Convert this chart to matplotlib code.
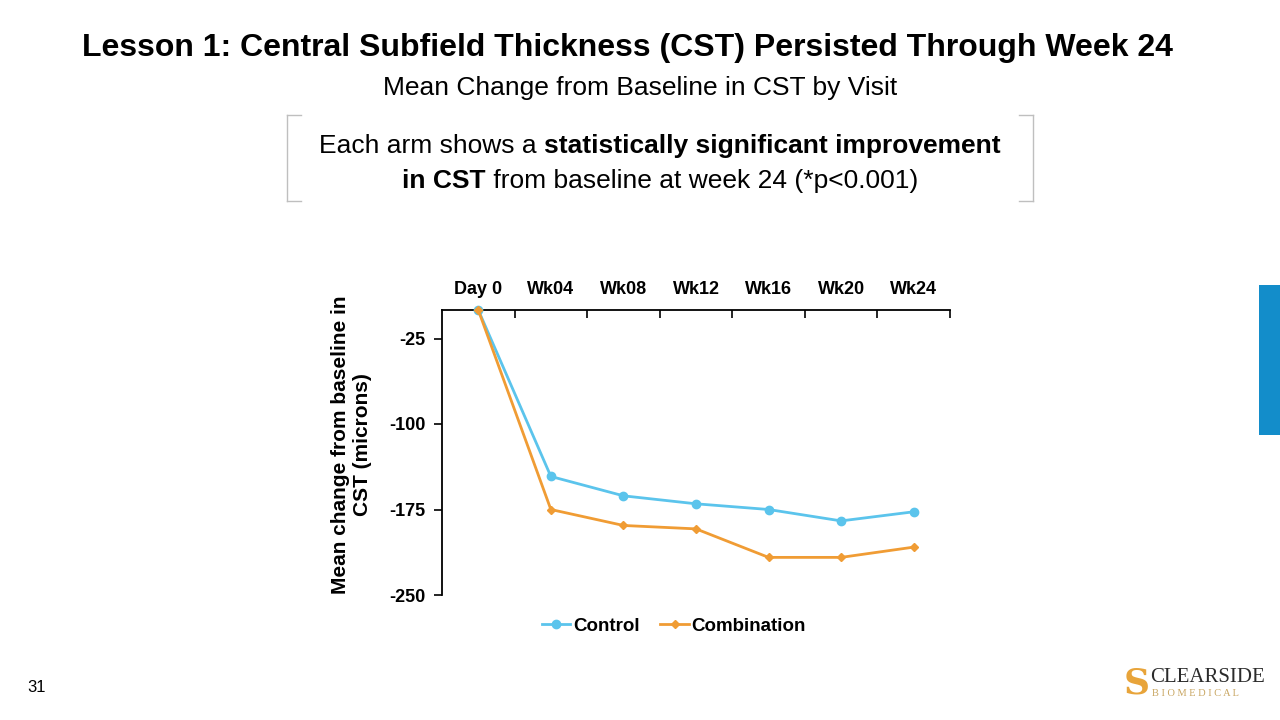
import matplotlib
matplotlib.use("Agg")
import matplotlib.pyplot as plt
from matplotlib.lines import Line2D
from matplotlib.patches import Rectangle

plt.rcParams['font.family'] = ['Liberation Sans', 'DejaVu Sans']

visits = ["Day 0", "Wk04", "Wk08", "Wk12", "Wk16", "Wk20", "Wk24"]
control = [0, -146, -163, -170, -175, -185, -177]
combination = [0, -175, -189, -192, -217, -217, -208]
y_ticks = [-25, -100, -175, -250]

C_CTRL = "#5BC4EC"
C_COMB = "#F09C34"

fig = plt.figure(figsize=(12.8, 7.2), dpi=100)
W, H = 1280, 720

def fx(x):
    return x / W

def fy(y):
    return 1 - y / H

# Titles
fig.text(fx(627), fy(48), "Lesson 1: Central Subfield Thickness (CST) Persisted Through Week 24",
         ha="center", va="center", fontsize=23, fontweight="bold", color="black")
fig.text(fx(640), fy(88), "Mean Change from Baseline in CST by Visit",
         ha="center", va="center", fontsize=19, color="black")

# Callout box brackets
gray = "#BFBFBF"
for xb, d in [(287, 1), (1033, -1)]:
    fig.add_artist(Line2D([fx(xb), fx(xb)], [fy(115), fy(201)], color=gray, lw=1))
    fig.add_artist(Line2D([fx(xb), fx(xb + d * 14)], [fy(115), fy(115)], color=gray, lw=1))
    fig.add_artist(Line2D([fx(xb), fx(xb + d * 14)], [fy(201), fy(201)], color=gray, lw=1))

# Mixed-weight centered text lines
fig.canvas.draw()
renderer = fig.canvas.get_renderer()

def mixed_line(parts, xc, yc, size):
    texts = []
    for s, w in parts:
        t = fig.text(0, fy(yc), s, ha="left", va="center", fontsize=size, fontweight=w)
        texts.append(t)
    widths = [t.get_window_extent(renderer).width for t in texts]
    total = sum(widths)
    x = xc - total / 2
    for t, wd in zip(texts, widths):
        t.set_x(fx(x))
        x += wd

mixed_line([("Each arm shows a ", "normal"), ("statistically significant improvement", "bold")], 660, 146, 19)
mixed_line([("in CST", "bold"), (" from baseline at week 24 (*p<0.001)", "normal")], 660, 181, 19)

# Chart
ax = fig.add_axes([fx(442), fy(595), fx(950) - fx(442), fy(310) - fy(595)])
xs = list(range(len(visits)))
ax.plot(xs, control, color=C_CTRL, lw=2.0, marker="o", ms=6, label="Control", zorder=3, clip_on=False)
ax.plot(xs, combination, color=C_COMB, lw=2.0, marker="D", ms=4.5, label="Combination", zorder=3, clip_on=False)

ax.set_xlim(-0.5, len(visits) - 0.5)
ax.set_ylim(-250, 0)
ax.set_yticks(y_ticks)
ax.set_yticklabels([str(v) for v in y_ticks], fontsize=13, fontweight="bold")
ax.xaxis.tick_top()
ax.set_xticks(xs)
ax.set_xticklabels(visits, fontsize=13, fontweight="bold")
ax.set_xticks([i + 0.5 for i in xs], minor=True)
ax.tick_params(axis="x", which="major", length=0, pad=9)
ax.tick_params(axis="x", which="minor", length=6, direction="in", width=1.2, top=True, bottom=False)
ax.tick_params(axis="y", which="major", length=6, direction="out", width=1.2, pad=6)
for s in ["right", "bottom"]:
    ax.spines[s].set_visible(False)
for s in ["left", "top"]:
    ax.spines[s].set_linewidth(1.3)
ax.set_ylabel("Mean change from baseline in\nCST (microns)", fontsize=15, fontweight="bold",
              linespacing=1.2)
ax.yaxis.set_label_coords((372 - 442) / 508, (595 - 445) / 285)
ax.patch.set_alpha(0)

leg = fig.legend(handles=ax.get_lines(), loc="center", bbox_to_anchor=(fx(674), fy(626)),
                 ncol=2, frameon=False, prop={"weight": "bold", "size": 13.5},
                 handlelength=1.5, columnspacing=1.1, handletextpad=0.15)

# Page number
fig.text(fx(37), fy(688), "31", ha="center", va="center", fontsize=12, color="black")

# Blue side bar
fig.add_artist(Rectangle((fx(1259), fy(435)), fx(1280) - fx(1259), fy(285) - fy(435),
                         transform=fig.transFigure, color="#138DCA", lw=0))

# Logo
fig.text(fx(1124), fy(684), "S", ha="left", va="center", fontsize=26, fontweight="bold",
         color="#E8A43A", family="DejaVu Serif")
fig.text(fx(1150), fy(677), "CLEARSIDE", ha="left", va="center", fontsize=15,
         color="#2B2B2B", family="Liberation Serif")
fig.text(fx(1152), fy(693), "B I O M E D I C A L", ha="left", va="center", fontsize=7.5,
         color="#C8A560", family="Liberation Serif")

fig.savefig("out.png", dpi=100)
